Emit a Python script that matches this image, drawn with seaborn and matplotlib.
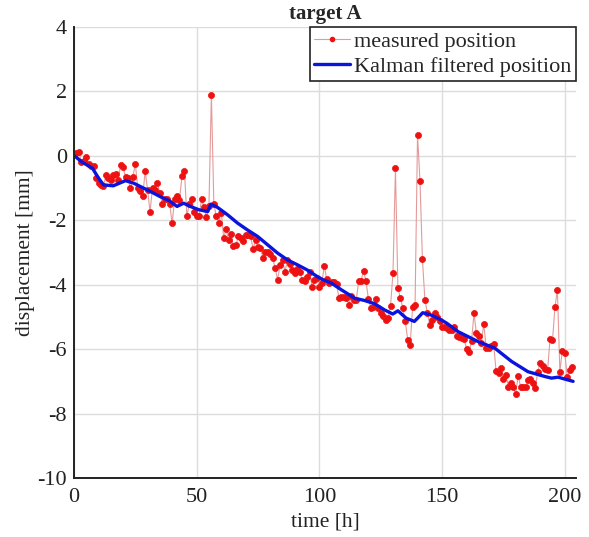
import numpy as np
import pandas as pd
import matplotlib
matplotlib.use("Agg")
import matplotlib.pyplot as plt
import seaborn as sns
from matplotlib.lines import Line2D

time_h = list(range(0, 204))
measured_mm = [
    0.05, 0.10, 0.13, -0.20, -0.15, -0.05, -0.25, -0.30, -0.30, -0.70,
    -0.85, -0.90, -0.95, -0.60, -0.70, -0.75, -0.60, -0.55, -0.75, -0.28,
    -0.35, -0.65, -0.70, -1.00, -0.65, -0.25, -1.00, -1.10, -1.26, -0.48,
    -1.06, -1.73, -1.00, -1.05, -0.85, -1.16, -1.50, -1.35, -1.35, -1.50,
    -2.09, -1.35, -1.25, -1.37, -0.64, -0.46, -1.88, -1.50, -1.35, -1.73,
    -1.88, -1.86, -1.34, -1.60, -1.90, -1.55, 1.90, -1.50, -1.88, -2.07,
    -1.76, -2.54, -2.28, -2.60, -2.44, -2.80, -2.78, -2.48, -2.55, -2.64,
    -2.45, -2.47, -2.50, -2.90, -2.60, -2.84, -2.86, -3.18, -2.97, -3.00,
    -3.05, -3.18, -3.49, -3.85, -3.38, -3.23, -3.59, -3.23, -3.35, -3.54,
    -3.64, -3.50, -3.60, -3.85, -3.90, -3.75, -3.59, -4.06, -3.85, -3.80,
    -4.06, -3.95, -3.42, -3.83, -3.95, -3.93, -3.93, -3.98, -4.42, -4.39,
    -4.39, -4.42, -4.62, -4.36, -4.47, -4.49, -3.90, -3.87, -3.56, -3.90,
    -4.45, -4.73, -4.70, -4.45, -4.73, -4.88, -4.97, -5.09, -5.04, -4.65,
    -3.64, -0.38, -4.11, -4.40, -4.73, -5.14, -5.71, -5.87, -4.68, -4.64,
    0.65, -0.77, -3.21, -4.47, -4.87, -5.25, -5.10, -4.87, -5.00, -5.14,
    -5.32, -5.30, -5.35, -5.40, -5.40, -5.30, -5.59, -5.62, -5.65, -5.69,
    -6.00, -6.10, -5.76, -4.89, -5.51, -5.60, -5.80, -5.22, -5.97, -5.97,
    -5.90, -5.83, -6.67, -6.75, -6.60, -6.94, -6.80, -7.16, -7.06, -7.18,
    -7.39, -6.83, -7.16, -7.16, -7.16, -6.96, -6.94, -7.06, -7.21, -6.70,
    -6.42, -6.52, -6.62, -6.65, -5.69, -5.73, -4.70, -4.16, -6.70, -6.05,
    -6.11, -6.87, -6.65, -6.57,
]

kalman_t = [0, 1, 3.4, 7.5, 10, 12, 16, 21, 24.4, 27, 31, 35, 39, 42, 44.7, 47.4,
            50.8, 54.5, 55.8, 58.5, 62.6, 66.7, 70.7, 74.8, 78.9, 83, 87, 91, 95,
            99.2, 101.6, 104.9, 109, 114.4, 118.4, 122.5, 126.5, 129.9, 132,
            135.4, 138.7, 140, 142.1, 145.5, 149.6, 152, 156.6, 164.8, 171.5,
            178.3, 185, 191.9, 194.6, 197.3, 200, 203.4]
kalman_mm = [0.0, -0.05, -0.2, -0.38, -0.69, -0.9, -0.93, -0.77, -0.85, -0.95,
             -1.1, -1.26, -1.4, -1.57, -1.47, -1.57, -1.67, -1.73, -1.5, -1.6,
             -1.83, -2.09, -2.3, -2.5, -2.76, -3.02, -3.23, -3.38, -3.54, -3.75,
             -3.85, -3.95, -4.16, -4.42, -4.49, -4.59, -4.78, -4.91, -4.81,
             -5.04, -5.14, -5.04, -4.87, -4.94, -5.09, -5.2, -5.46, -5.77, -5.97,
             -6.38, -6.7, -6.85, -6.9, -6.87, -6.93, -7.0]

sns.set_style("white")
plt.rcParams['font.family'] = ['Liberation Serif', 'DejaVu Serif']
plt.rcParams['axes.unicode_minus'] = False

df_m = pd.DataFrame({"t": time_h, "y": measured_mm})
df_k = pd.DataFrame({"t": kalman_t, "y": kalman_mm})

fig = plt.figure(figsize=(5.89, 5.37), dpi=100)
ax = fig.add_axes([0.1256, 0.1099, 0.852, 0.8398])

sns.lineplot(data=df_m, x="t", y="y", ax=ax, color="#e59a9a", linewidth=0.8,
             marker="o", markersize=4.4, markerfacecolor="#ee1111",
             markeredgecolor="#ee1111", markeredgewidth=0.5,
             label="measured position", sort=False, estimator=None)
sns.lineplot(data=df_k, x="t", y="y", ax=ax, color="#0a14dc", linewidth=2.4,
             label="Kalman filtered position", sort=False, estimator=None)

ax.set_xlim(0, 204.5)
ax.set_ylim(-10, 4)
ax.set_xticks([0, 50, 100, 150, 200])
ax.set_yticks(list(range(-10, 5, 2)))
ax.grid(True, color="#dcdcdc", linewidth=1.0)
ax.set_axisbelow(True)
for s in ["top", "right"]:
    ax.spines[s].set_visible(False)
for s in ["left", "bottom"]:
    ax.spines[s].set_color("#222222")
    ax.spines[s].set_linewidth(1.4)
ax.tick_params(direction="in", length=5, width=1.2, colors="#222222",
               labelsize=16, labelcolor="#222222")
ax.tick_params(axis="x", pad=7)
ax.tick_params(axis="y", pad=5)
ax.set_xlabel("time [h]", fontsize=15.5, color="#222222", labelpad=4)
ax.set_ylabel("displacement [mm]", fontsize=15.5, color="#222222", labelpad=2)
ax.set_title("target A", fontsize=15, fontweight="bold", pad=6)

handles = [
    Line2D([], [], color="#e59a9a", linewidth=0.8, marker="o", markersize=3,
           markerfacecolor="#ee1111", markeredgecolor="#ee1111"),
    Line2D([], [], color="#0a14dc", linewidth=2.4),
]
leg = ax.legend(handles, ["measured position", "Kalman filtered position"],
                loc="upper right", bbox_to_anchor=(1.0, 1.0), fontsize=16,
                frameon=True, fancybox=False, framealpha=1, edgecolor="#222222",
                borderpad=0.2, labelspacing=0.2, handlelength=1.6,
                handletextpad=0.2, borderaxespad=0.0)
leg.get_frame().set_linewidth(1.2)

fig.savefig("out.png", dpi=100)
